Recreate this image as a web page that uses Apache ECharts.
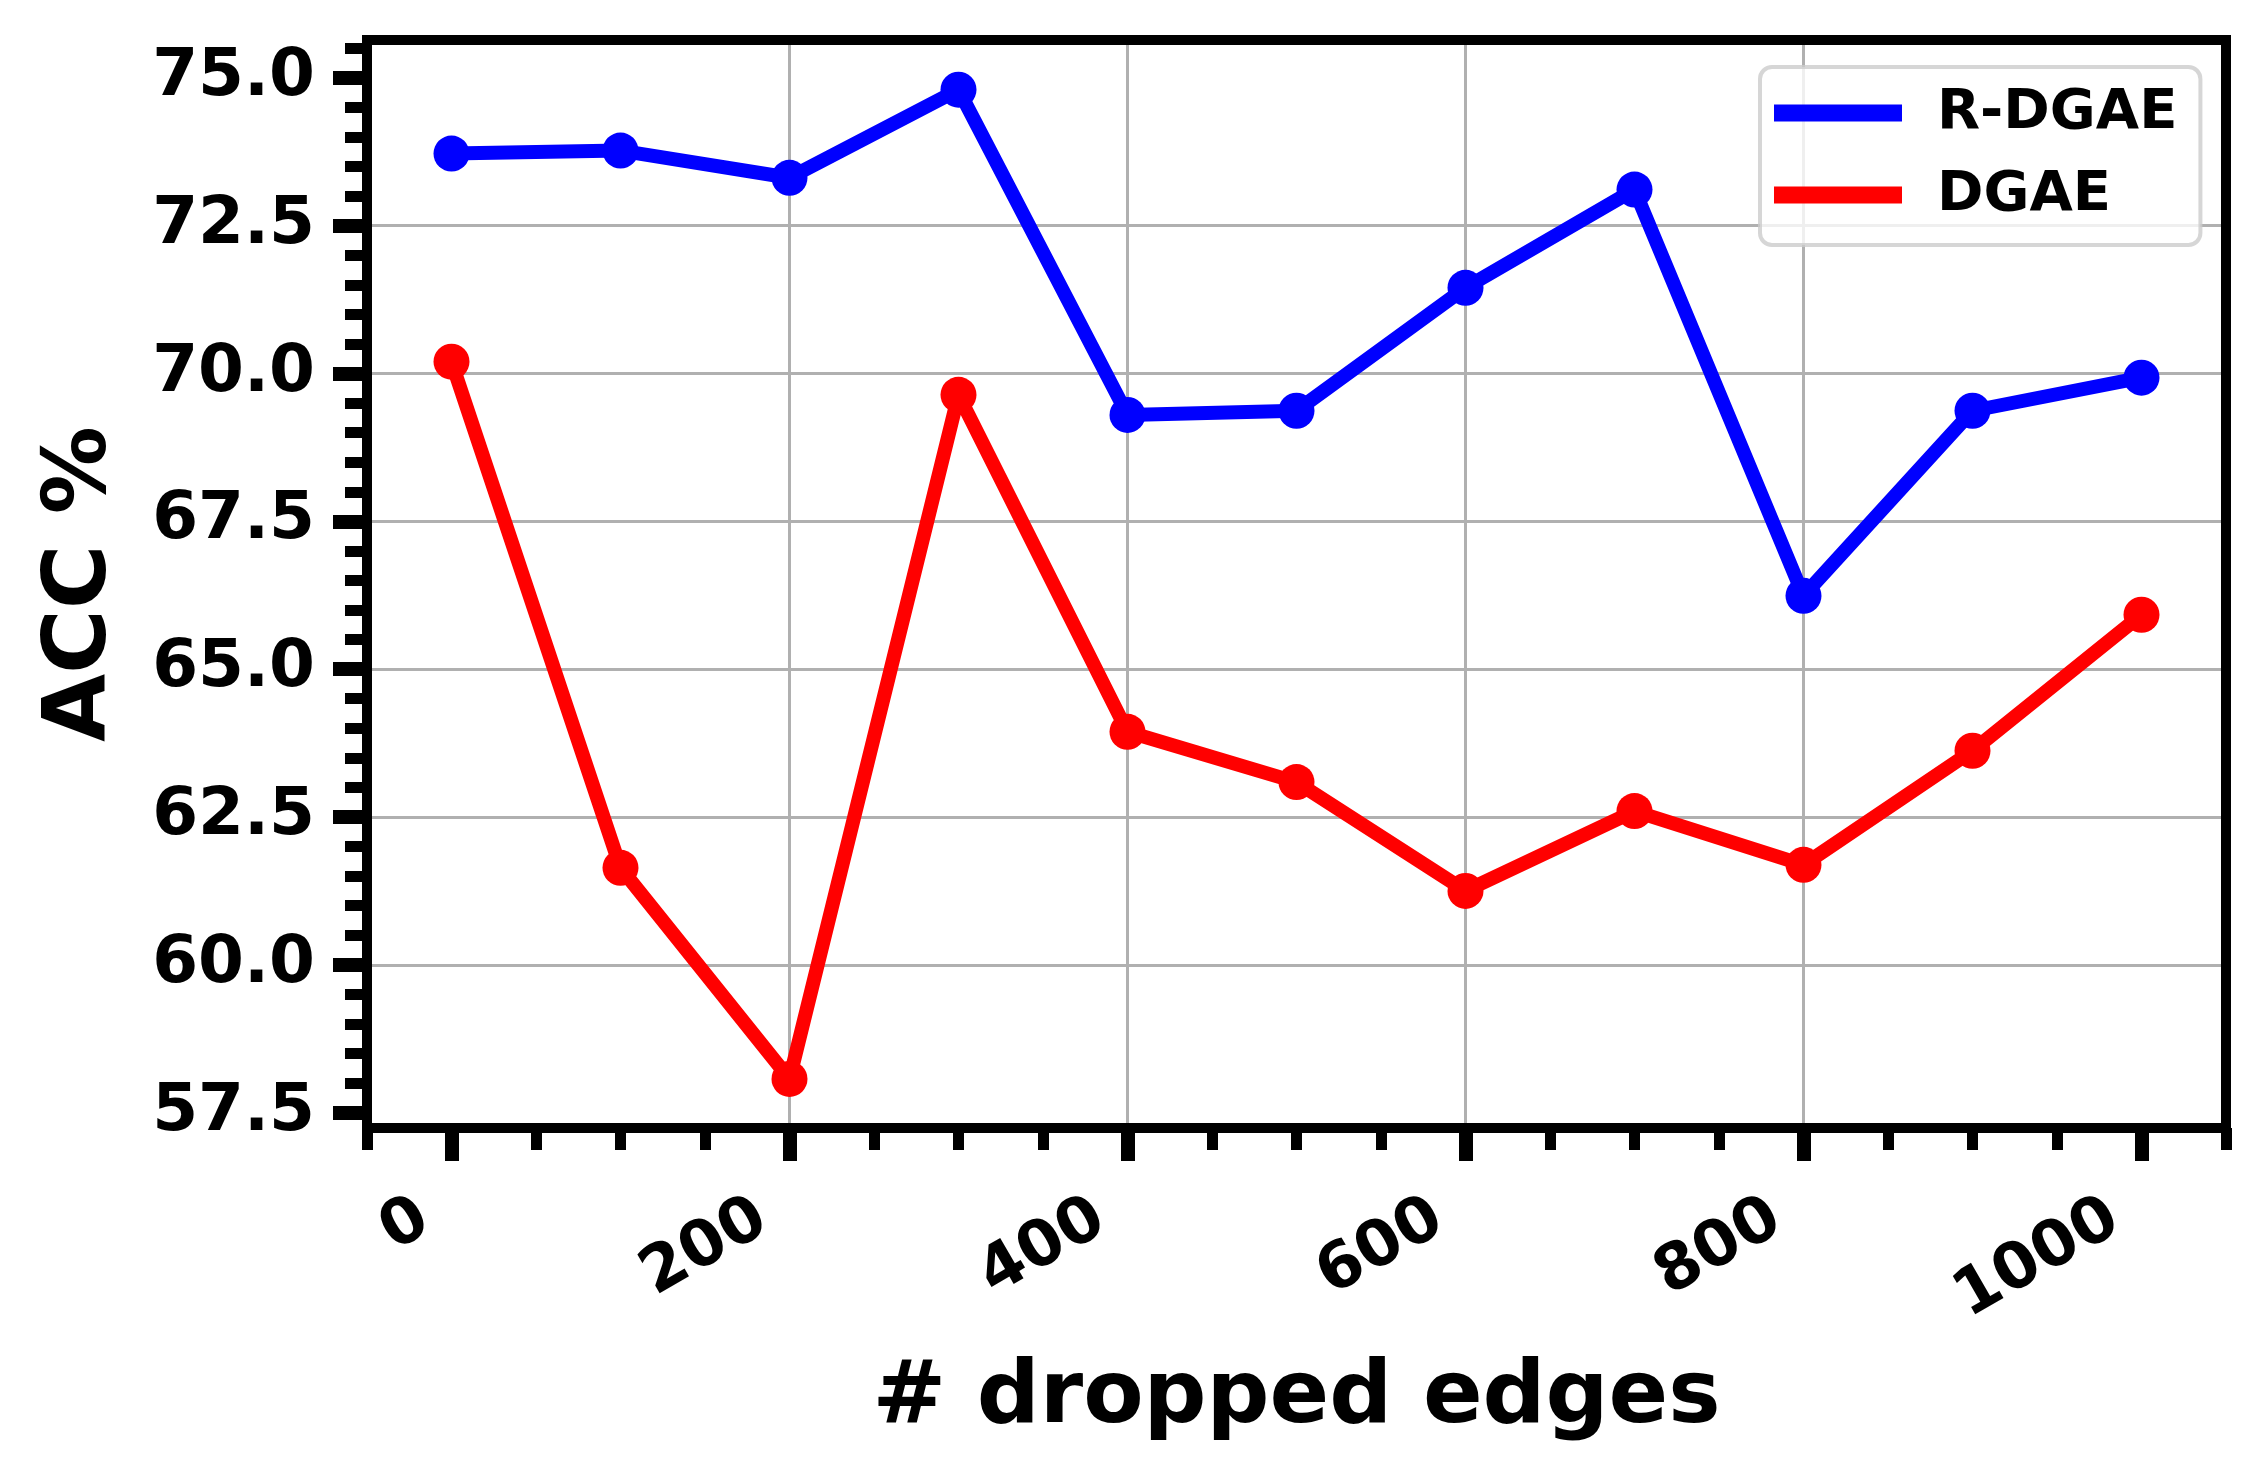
<!DOCTYPE html>
<html>
<head>
<meta charset="utf-8">
<script src="https://cdn.jsdelivr.net/npm/echarts@6/dist/echarts.min.js"></script>
<style>
html, body { margin: 0; padding: 0; background: #fff; }
#main { width: 2266px; height: 1480px; }
</style>
</head>
<body>
<div id="main"></div>
<script>
// data
const droppedEdges = [0, 100, 200, 300, 400, 500, 600, 700, 800, 900, 1000];
const accRDGAE = [73.72, 73.77, 73.31, 74.80, 69.30, 69.37, 71.45, 73.11, 66.24, 69.37, 69.93];
const accDGAE = [70.20, 61.64, 58.07, 69.64, 63.94, 63.09, 61.25, 62.60, 61.69, 63.62, 65.92];
const seriesNames = ['R-DGAE', 'DGAE'];

// ticks
const xMajorTicks = [0, 200, 400, 600, 800, 1000];
const xMinorTicks = [-50, 50, 100, 150, 250, 300, 350, 450, 500, 550, 650, 700, 750, 850, 900, 950, 1050];
const yMajorTicks = [57.5, 60, 62.5, 65, 67.5, 70, 72.5, 75];
const yMinorTicks = [57.5, 58, 58.5, 59, 59.5, 60, 60.5, 61, 61.5, 62, 62.5, 63, 63.5, 64, 64.5, 65, 65.5, 66, 66.5,
  67, 67.5, 68, 68.5, 69, 69.5, 70, 70.5, 71, 71.5, 72, 72.5, 73, 73.5, 74, 74.5, 75, 75.5];

const font = 'DejaVu Sans';
const black = '#000';
const gridLine = { show: true, showMinLine: false, showMaxLine: false, lineStyle: { color: '#b0b0b0', width: 3 } };

let myChart = echarts.init(document.getElementById('main'));
myChart.setOption({
  animation: false,
  backgroundColor: '#fff',
  grid: {
    left: 367, right: 40, top: 40, bottom: 352,
    show: true, borderColor: black, borderWidth: 10, backgroundColor: 'transparent',
    z: 1, outerBoundsMode: 'none'
  },
  legend: {
    orient: 'vertical',
    left: 1760,
    top: 67,
    padding: [16, 23, 20, 14],
    itemGap: 22,
    itemWidth: 128,
    itemHeight: 17,
    icon: 'rect',
    backgroundColor: 'rgba(255,255,255,0.8)',
    borderColor: 'rgba(204,204,204,0.8)',
    borderWidth: 4,
    borderRadius: 12,
    textStyle: { fontSize: 56, fontWeight: 'bold', fontFamily: font, color: black, lineHeight: 60, padding: [0, 0, 0, 30] },
    data: seriesNames
  },
  xAxis: [
    {
      type: 'value', min: -50, max: 1050, minInterval: 200, maxInterval: 200,
      axisLine: { show: false, onZero: false },
      axisTick: { customValues: xMajorTicks, length: 33, lineStyle: { color: black, width: 14 } },
      axisLabel: {
        customValues: xMajorTicks, rotate: 30, margin: 71, padding: [0, 31, 0, 0],
        formatter: function (v) { return String(v) },
        fontSize: 64, fontWeight: 'bold', fontFamily: font, color: black
      },
      splitLine: gridLine,
      name: '# dropped edges', nameLocation: 'middle', nameGap: 227, nameMoveOverlap: false,
      nameTextStyle: { fontSize: 88, fontWeight: 'bold', fontFamily: font, color: black }
    },
    {
      type: 'value', min: -50, max: 1050, position: 'bottom',
      axisLine: { show: false, onZero: false },
      axisTick: { customValues: xMinorTicks, length: 22, lineStyle: { color: black, width: 11 } },
      axisLabel: { show: false },
      splitLine: { show: false }
    }
  ],
  yAxis: [
    {
      type: 'value', min: 57.24, max: 75.64, minInterval: 2.5, maxInterval: 2.5,
      axisLine: { show: false, onZero: false },
      axisTick: { customValues: yMajorTicks, length: 34, lineStyle: { color: black, width: 14 } },
      axisLabel: {
        customValues: yMajorTicks, margin: 52,
        formatter: function (v) { return v.toFixed(1) },
        fontSize: 66, fontWeight: 'bold', fontFamily: font, color: black
      },
      splitLine: gridLine,
      name: 'ACC %', nameLocation: 'middle', nameGap: 241, nameMoveOverlap: false,
      nameTextStyle: { fontSize: 88, fontWeight: 'bold', fontFamily: font, color: black }
    },
    {
      type: 'value', min: 57.24, max: 75.64, position: 'left',
      axisLine: { show: false, onZero: false },
      axisTick: { customValues: yMinorTicks, length: 22, lineStyle: { color: black, width: 11 } },
      axisLabel: { show: false },
      splitLine: { show: false }
    }
  ],
  series: [
    {
      name: seriesNames[0],
      type: 'line',
      data: droppedEdges.map((x, i) => [x, accRDGAE[i]]),
      color: '#0000ff',
      lineStyle: { width: 14, color: '#0000ff' },
      itemStyle: { color: '#0000ff' },
      symbol: 'circle',
      symbolSize: 36
    },
    {
      name: seriesNames[1],
      type: 'line',
      data: droppedEdges.map((x, i) => [x, accDGAE[i]]),
      color: '#ff0000',
      lineStyle: { width: 14, color: '#ff0000' },
      itemStyle: { color: '#ff0000' },
      symbol: 'circle',
      symbolSize: 36
    }
  ]
})
</script>
</body>
</html>
